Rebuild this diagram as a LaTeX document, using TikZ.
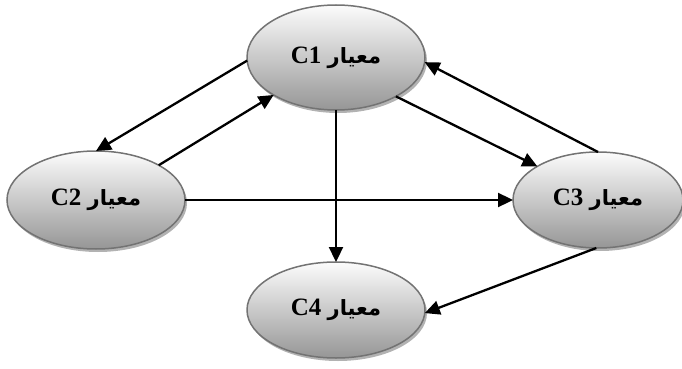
\documentclass[tikz,border=0pt]{standalone}
\usepackage{fontspec}
\setmainfont{Liberation Serif}
\newfontfamily\arabicfont[Script=Arabic]{DejaVu Sans}
\TeXXeTstate=1
\usetikzlibrary{arrows.meta,shadows,shapes.geometric}

\definecolor{shadetop}{RGB}{252,252,252}
\definecolor{shadebot}{RGB}{150,150,150}
\definecolor{rimgray}{RGB}{115,115,115}

\tikzset{
  crit/.style={ellipse, draw=rimgray, line width=1.5pt, inner sep=0pt, outer sep=0pt,
    top color=shadetop, bottom color=shadebot,
    drop shadow={shadow xshift=2pt, shadow yshift=-3pt, opacity=0.3, fill=black},
    font=\fontsize{25}{25}\selectfont\bfseries},
  link/.style={line width=2.3pt, -{Triangle[length=15pt,width=14pt]}}
}

% label: Arabic word followed (right to left) by the criterion code
\newcommand{\critlabel}[1]{\beginR{\arabicfont\fontsize{21}{21}\selectfont\bfseries معيار} \beginL #1\endL\endR}

\begin{document}
\begin{tikzpicture}[x=1pt,y=-1pt]
  \useasboundingbox (0,0) rectangle (682,369);

  \node[crit, minimum width=178pt, minimum height=105pt] (c1) at (336,57.5) {\critlabel{C1}};
  \node[crit, minimum width=178pt, minimum height=98pt]  (c2) at (96,200)   {\critlabel{C2}};
  \node[crit, minimum width=170pt, minimum height=96pt]  (c3) at (598,200)  {\critlabel{C3}};
  \node[crit, minimum width=178pt, minimum height=96pt]  (c4) at (336,310)  {\critlabel{C4}};

  \draw[link] (c1.182)   -- (c2.90);
  \draw[link] (c2.29)    -- (c1.211.7);
  \draw[link] (c1.327.5) -- (c3.151.6);
  \draw[link] (c3.90)    -- (c1.357);
  \draw[link] (c2.east)  -- (c3.west);
  \draw[link] (c1.270)   -- (c4.90);
  \draw[link] (c3.268)   -- (c4.358);
\end{tikzpicture}
\end{document}
